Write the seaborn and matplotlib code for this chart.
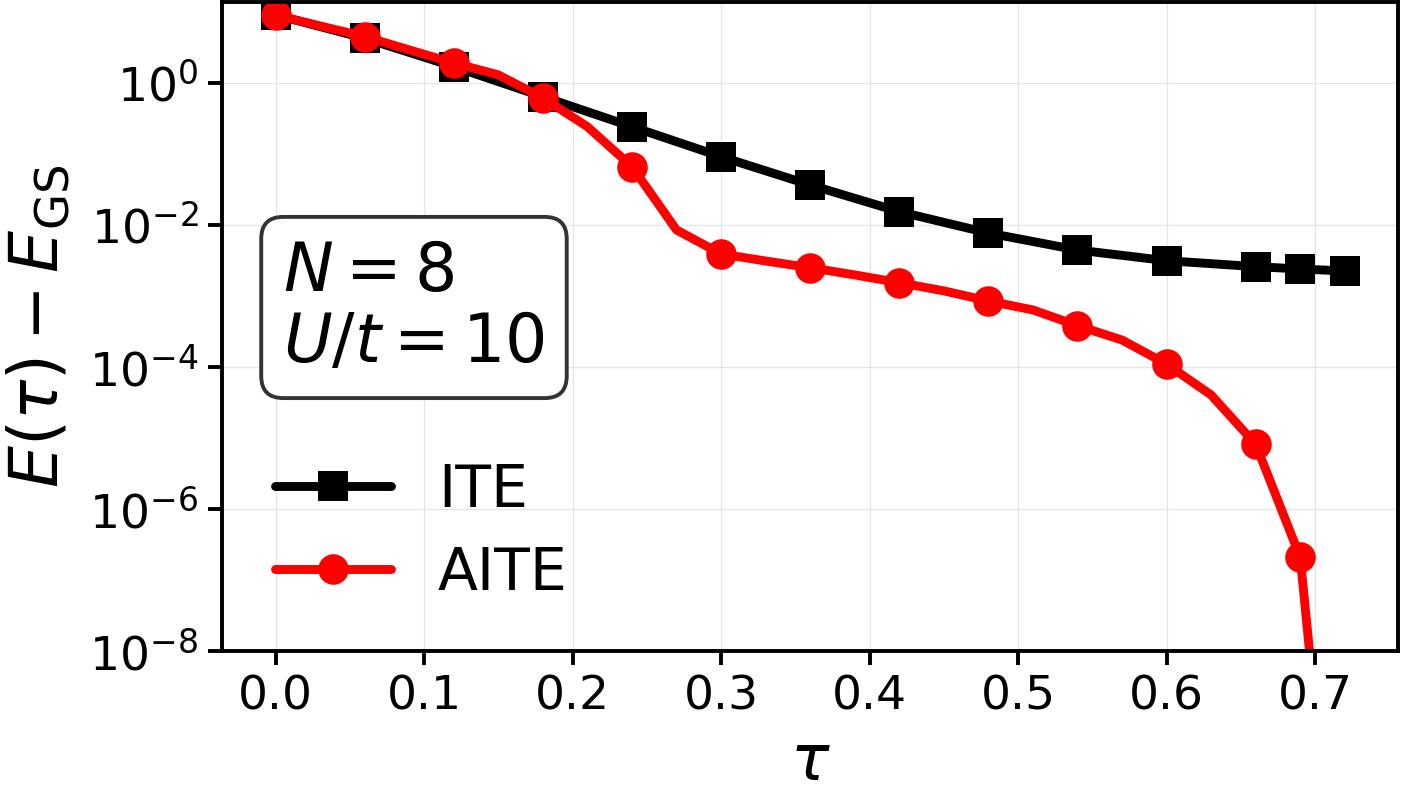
import numpy as np
import pandas as pd
import matplotlib
matplotlib.use('Agg')
import matplotlib.pyplot as plt
import seaborn as sns

# ITE: one point every 0.06, plus 0.69 and 0.72
tau_ite = [0.00, 0.06, 0.12, 0.18, 0.24, 0.30, 0.36, 0.42, 0.48, 0.54, 0.60, 0.66, 0.69, 0.72]
e_ite = [9.08, 4.26, 1.70, 0.641, 0.242, 0.0916, 0.0366, 0.0154, 0.0077, 0.00444,
         0.00314, 0.00259, 0.00240, 0.00225]

# AITE: one point every 0.03
tau_aite = [0.00, 0.03, 0.06, 0.09, 0.12, 0.15, 0.18, 0.21, 0.24, 0.27, 0.30, 0.33,
            0.36, 0.39, 0.42, 0.45, 0.48, 0.51, 0.54, 0.57, 0.60, 0.63, 0.66, 0.69, 0.72]
e_aite = [9.08, 6.35, 4.49, 2.92, 1.91, 1.30, 0.615, 0.242, 0.0663, 0.00851, 0.00391, 0.00311,
          0.00250, 0.00198, 0.00154, 0.00118, 0.000851, 0.000636, 0.000382, 0.000240,
          0.000110, 4.04e-5, 8.2e-6, 2.1e-7, 1e-13]
aite_marks = [0, 2, 4, 6, 8, 10, 12, 14, 16, 18, 20, 22, 23]

ite = pd.DataFrame({'tau': tau_ite, 'E': e_ite})
aite = pd.DataFrame({'tau': tau_aite, 'E': e_aite})

sns.set_theme(style='ticks')
plt.rcParams['font.family'] = ['DejaVu Sans']
plt.rcParams['mathtext.fontset'] = 'dejavusans'
plt.rcParams['text.color'] = 'black'
plt.rcParams['axes.labelcolor'] = 'black'

fig, ax = plt.subplots(figsize=(7.005, 3.965), dpi=200)
fig.subplots_adjust(left=0.1585, right=0.998, top=0.9975, bottom=0.179)

sns.lineplot(data=ite, x='tau', y='E', ax=ax, color='black', lw=3.2,
             marker='s', markersize=10.5, markeredgewidth=0, label='ITE')
sns.lineplot(data=aite, x='tau', y='E', ax=ax, color='red', lw=3.2,
             marker='o', markersize=11, markeredgewidth=0, markevery=aite_marks,
             label='AITE')

ax.set_yscale('log')
ax.set_ylim(1e-8, 13.8)
ax.set_yticks([1e-8, 1e-6, 1e-4, 1e-2, 1e0])
ax.yaxis.set_minor_locator(matplotlib.ticker.NullLocator())
ax.set_xticks([0.0, 0.1, 0.2, 0.3, 0.4, 0.5, 0.6, 0.7])

ax.grid(True, color='#e6e6e6', lw=0.5, ls='-')
ax.tick_params(labelsize=17, length=5, width=1.4, color='black', labelcolor='black')
for s in ax.spines.values():
    s.set_linewidth(1.4)
    s.set_color('black')

ax.set_xlabel(r'$\tau$', fontsize=23, labelpad=4)
ax.set_ylabel(r'$E(\tau) - E_{\rm GS}$', fontsize=24, labelpad=6)

ax.text(0.052, 0.635, '$N = 8$\n$U/t = 10$', transform=ax.transAxes, fontsize=24,
        va='top', ha='left', linespacing=1.1,
        bbox=dict(boxstyle='round,pad=0.33', fc='white', ec='#333333', lw=1.4))

leg = ax.legend(loc='lower left', bbox_to_anchor=(0.0, -0.005), fontsize=21, frameon=False,
                handlelength=2.0, labelspacing=0.45)

fig.savefig('out.png', dpi=200)
